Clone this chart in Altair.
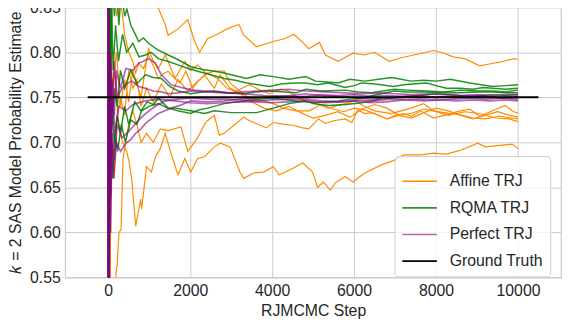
import altair as alt
import pandas as pd

series_names = ["Affine TRJ", "RQMA TRJ", "Perfect TRJ", "Ground Truth"]
series_colors = ["#ff8c00", "rgba(0,128,0,0.85)", "rgba(128,0,128,0.6)", "#000000"]
series_widths = [1.2, 1.5, 1.7, 2.0]

x_ticks = [0, 2000, 4000, 6000, 8000, 10000]
y_ticks = [0.55, 0.60, 0.65, 0.70, 0.75, 0.80, 0.85]

# (RJMCMC step, estimate) pairs
affine_1 = [(0, 0.60), (20, 1.00), (60, 0.95), (150, 0.98), (300, 0.93), (500, 0.91), (800, 0.89), (1100, 0.87),
            (1223, 0.849), (1391, 0.831), (1463, 0.819), (1703, 0.826), (1942, 0.836), (2110, 0.812), (2230, 0.800),
            (2422, 0.815), (2662, 0.820), (2900, 0.826), (3189, 0.831), (3309, 0.819), (3621, 0.806), (4029, 0.812),
            (4300, 0.815), (4532, 0.820), (4772, 0.810), (4892, 0.804), (5156, 0.811), (5300, 0.797), (5611, 0.790),
            (5971, 0.799), (6250, 0.797), (6499, 0.800), (6859, 0.790), (7150, 0.794), (7458, 0.797), (7937, 0.802),
            (8200, 0.799), (8417, 0.795), (8700, 0.793), (9065, 0.785), (9300, 0.787), (9544, 0.789), (9904, 0.793),
            (10000, 0.792)]
affine_2 = [(0, 1.0), (10, 0.6), (25, 0.95), (50, 0.88), (100, 0.92), (200, 0.84), (300, 0.86), (400, 0.82),
            (500, 0.80), (600, 0.79), (671, 0.777), (743, 0.788), (860, 0.782), (983, 0.797), (1100, 0.785),
            (1223, 0.771), (1340, 0.776), (1463, 0.779), (1600, 0.772), (1751, 0.766), (1894, 0.779), (2062, 0.760),
            (2200, 0.768), (2350, 0.775), (2590, 0.760), (2734, 0.775), (2974, 0.760), (3141, 0.757), (3300, 0.761),
            (3453, 0.764), (3700, 0.758), (3933, 0.754), (4200, 0.759), (4412, 0.757), (4600, 0.750), (4820, 0.746),
            (5060, 0.743), (5372, 0.738), (5600, 0.741), (5780, 0.743), (6019, 0.746), (6250, 0.740), (6499, 0.735),
            (6907, 0.732), (7150, 0.735), (7386, 0.738), (7698, 0.743), (7937, 0.735), (8345, 0.732), (8600, 0.735),
            (8825, 0.737), (9065, 0.729), (9377, 0.735), (9688, 0.741), (9856, 0.735), (10000, 0.732)]
affine_3 = [(0, 0.0), (10, 0.9), (30, 0.7), (60, 0.82), (100, 0.76), (200, 0.80), (300, 0.74), (400, 0.77),
            (500, 0.745), (600, 0.78), (800, 0.75), (983, 0.804), (1100, 0.79), (1223, 0.782), (1391, 0.797),
            (1631, 0.771), (1870, 0.790), (2000, 0.780), (2182, 0.786), (2400, 0.776), (2590, 0.779), (2830, 0.779),
            (2974, 0.766), (3213, 0.757), (3453, 0.749), (3789, 0.746), (4029, 0.743), (4269, 0.738), (4580, 0.735),
            (4900, 0.735), (5200, 0.742), (5500, 0.737), (5750, 0.734), (6000, 0.738), (6250, 0.736), (6499, 0.732),
            (6811, 0.726), (7000, 0.730), (7218, 0.732), (7400, 0.729), (7626, 0.735), (7937, 0.727), (8200, 0.730),
            (8417, 0.732), (8650, 0.730), (8897, 0.727), (9209, 0.726), (9544, 0.729), (9856, 0.727), (10000, 0.726)]
affine_4 = [(0, 0.3), (10, 0.55), (30, 0.45), (60, 0.62), (100, 0.70), (150, 0.66), (200, 0.72), (300, 0.75),
            (400, 0.73), (500, 0.78), (600, 0.76), (700, 0.77), (800, 0.74), (935, 0.76), (1100, 0.745), (1300, 0.765),
            (1500, 0.75), (1703, 0.77), (1942, 0.757), (2182, 0.768), (2422, 0.777), (2662, 0.771), (2900, 0.76),
            (3200, 0.755), (3500, 0.745), (3800, 0.738), (4100, 0.735), (4400, 0.74), (4700, 0.733), (5000, 0.727),
            (5300, 0.73), (5600, 0.734), (5900, 0.728), (6200, 0.737), (6500, 0.742), (6800, 0.738), (7100, 0.73),
            (7400, 0.727), (7700, 0.733), (8000, 0.738), (8300, 0.735), (8600, 0.73), (8900, 0.726), (9200, 0.73),
            (9500, 0.734), (9800, 0.73), (10000, 0.728)]
affine_5 = [(0, 0.0), (10, 0.4), (30, 0.2), (60, 0.45), (120, 0.50), (192, 0.556), (216, 0.563), (264, 0.60),
            (312, 0.603), (360, 0.68), (420, 0.70), (500, 0.72), (600, 0.735), (700, 0.72), (800, 0.70), (935, 0.71),
            (1100, 0.70), (1271, 0.715), (1463, 0.713), (1775, 0.717), (1942, 0.69), (2182, 0.705), (2350, 0.72),
            (2422, 0.724), (2590, 0.73), (2710, 0.708), (2830, 0.71), (3070, 0.719), (3309, 0.728), (3453, 0.724),
            (3861, 0.716), (4029, 0.722), (4300, 0.72), (4508, 0.719), (4748, 0.716), (4892, 0.715), (5132, 0.726),
            (5300, 0.721), (5500, 0.724), (5780, 0.726), (5947, 0.722), (6091, 0.736), (6259, 0.732), (6427, 0.733),
            (6811, 0.726), (7100, 0.73), (7386, 0.732), (7700, 0.737), (7937, 0.735), (8300, 0.73), (8700, 0.734),
            (9065, 0.732), (9449, 0.727), (9784, 0.726), (10000, 0.723)]
affine_6 = [(0, 1.0), (15, 0.62), (40, 0.85), (80, 0.74), (150, 0.78), (250, 0.72), (350, 0.70), (450, 0.69),
            (504, 0.68), (576, 0.658), (671, 0.607), (791, 0.637), (815, 0.626), (935, 0.673), (1055, 0.667),
            (1151, 0.684), (1271, 0.693), (1391, 0.71), (1550, 0.685), (1703, 0.664), (1870, 0.682), (2014, 0.667),
            (2182, 0.682), (2350, 0.684), (2590, 0.695), (2734, 0.699), (2974, 0.695), (3213, 0.667), (3309, 0.660),
            (3549, 0.666), (3789, 0.667), (4029, 0.673), (4173, 0.664), (4412, 0.669), (4748, 0.677), (4988, 0.667),
            (5108, 0.650), (5252, 0.656), (5420, 0.647), (5540, 0.655), (5780, 0.662), (5971, 0.656), (6259, 0.666),
            (6667, 0.675), (6979, 0.680), (7218, 0.686), (7626, 0.686), (7937, 0.688), (8249, 0.687), (8585, 0.691),
            (9017, 0.699), (9209, 0.695), (9616, 0.697), (9856, 0.698), (10000, 0.693)]

rqma_1 = [(0, 1.0), (8, 0.5), (15, 0.9), (25, 0.6), (40, 0.95), (70, 0.8), (100, 0.9), (150, 0.84), (200, 0.88),
          (260, 0.83), (320, 0.87), (400, 0.84), (456, 0.848), (552, 0.83), (671, 0.819), (743, 0.812), (860, 0.816),
          (983, 0.81), (1200, 0.803), (1463, 0.797), (1700, 0.792), (2014, 0.784), (2300, 0.781), (2600, 0.779),
          (2830, 0.777), (3100, 0.774), (3381, 0.771), (3700, 0.775), (4029, 0.773), (4412, 0.77), (4820, 0.773),
          (5060, 0.768), (5350, 0.767), (5611, 0.766), (5899, 0.77), (6259, 0.768), (6600, 0.77), (6907, 0.772),
          (7150, 0.77), (7386, 0.768), (7700, 0.769), (8009, 0.768), (8345, 0.77), (8825, 0.766), (9100, 0.764),
          (9377, 0.762), (9700, 0.763), (10000, 0.764)]
rqma_2 = [(0, 0.0), (8, 0.9), (15, 0.55), (30, 0.85), (50, 0.7), (80, 0.86), (120, 0.78), (180, 0.83), (250, 0.79),
          (350, 0.82), (450, 0.80), (600, 0.81), (750, 0.795), (911, 0.797), (1050, 0.80), (1223, 0.793),
          (1450, 0.79), (1703, 0.786), (1950, 0.782), (2182, 0.779), (2500, 0.775), (2830, 0.771), (3100, 0.769),
          (3381, 0.766), (3650, 0.764), (3933, 0.762), (4250, 0.765), (4580, 0.766), (4820, 0.766), (5100, 0.764),
          (5372, 0.766), (5780, 0.761), (6000, 0.763), (6187, 0.766), (6450, 0.765), (6667, 0.764), (6950, 0.762),
          (7218, 0.764), (7500, 0.765), (7770, 0.766), (8000, 0.763), (8249, 0.76), (8600, 0.76), (8897, 0.759),
          (9150, 0.761), (9377, 0.76), (9700, 0.759), (10000, 0.76)]
rqma_3 = [(0, 1.0), (10, 0.6), (20, 0.8), (35, 0.65), (60, 0.78), (100, 0.72), (150, 0.76), (220, 0.74), (300, 0.78),
          (400, 0.76), (550, 0.78), (700, 0.765), (911, 0.775), (1100, 0.772), (1295, 0.771), (1500, 0.762),
          (1703, 0.757), (2014, 0.754), (2300, 0.756), (2590, 0.757), (2900, 0.755), (3309, 0.754), (3600, 0.756),
          (3933, 0.757), (4300, 0.756), (4580, 0.755), (4820, 0.759), (5200, 0.757), (5780, 0.758), (6100, 0.756),
          (6427, 0.755), (6979, 0.759), (7300, 0.758), (7770, 0.757), (8200, 0.756), (8585, 0.758), (9000, 0.757),
          (9377, 0.757), (9700, 0.756), (10000, 0.758)]
rqma_4 = [(0, 0.0), (10, 0.7), (20, 0.4), (35, 0.75), (60, 0.68), (100, 0.74), (150, 0.70), (220, 0.73), (300, 0.71),
          (400, 0.74), (500, 0.72), (650, 0.745), (800, 0.735), (950, 0.745), (1100, 0.742), (1223, 0.749),
          (1463, 0.738), (1700, 0.735), (2014, 0.732), (2200, 0.736), (2422, 0.738), (2830, 0.743), (3309, 0.746),
          (3700, 0.748), (4029, 0.749), (4400, 0.747), (4580, 0.746), (5060, 0.744), (5300, 0.745), (5611, 0.746),
          (5900, 0.748), (6187, 0.749), (6450, 0.752), (6667, 0.754), (6979, 0.757), (7300, 0.756), (7770, 0.756),
          (8200, 0.755), (8585, 0.755), (9000, 0.756), (9377, 0.756), (9700, 0.755), (10000, 0.755)]
rqma_5 = [(0, 1.0), (10, 0.45), (25, 0.7), (40, 0.6), (70, 0.72), (110, 0.66), (160, 0.71), (230, 0.69), (320, 0.72),
          (420, 0.70), (550, 0.725), (700, 0.72), (815, 0.735), (1000, 0.74), (1223, 0.743), (1450, 0.738),
          (1631, 0.738), (2014, 0.735), (2350, 0.732), (2590, 0.735), (3000, 0.733), (3213, 0.733), (3621, 0.733),
          (4029, 0.738), (4412, 0.743), (4820, 0.746), (5000, 0.743), (5372, 0.741), (5800, 0.742), (6187, 0.744),
          (6450, 0.746), (6667, 0.749), (7000, 0.75), (7218, 0.751), (7600, 0.752), (8009, 0.754), (8400, 0.753),
          (8825, 0.751), (9100, 0.752), (9377, 0.753), (9700, 0.752), (10000, 0.753)]

perfect_1 = [(0, 1.0), (5, 0.3), (10, 0.9), (15, 0.5), (20, 0.85), (30, 0.6), (45, 0.8), (70, 0.7), (100, 0.77),
             (150, 0.73), (200, 0.78), (300, 0.76), (432, 0.782), (600, 0.78), (743, 0.788), (860, 0.79),
             (983, 0.793), (1151, 0.788), (1295, 0.775), (1535, 0.764), (1870, 0.76), (2100, 0.758), (2350, 0.757),
             (2650, 0.756), (2974, 0.755), (3300, 0.756), (3621, 0.757), (4000, 0.758), (4412, 0.759), (4820, 0.757),
             (5300, 0.756), (5780, 0.755), (6200, 0.754), (6600, 0.755), (6979, 0.754), (7400, 0.753), (7800, 0.754),
             (8177, 0.753), (8600, 0.752), (9000, 0.753), (9377, 0.752), (9700, 0.753), (10000, 0.753)]
perfect_2 = [(0, 0.0), (5, 0.8), (10, 0.35), (15, 0.7), (25, 0.45), (40, 0.68), (60, 0.6), (90, 0.70), (130, 0.66),
             (200, 0.70), (300, 0.69), (432, 0.699), (550, 0.703), (671, 0.71), (800, 0.715), (911, 0.721),
             (1050, 0.726), (1223, 0.732), (1535, 0.738), (1750, 0.741), (2014, 0.746), (2400, 0.745), (2830, 0.746),
             (3200, 0.748), (3621, 0.749), (4000, 0.751), (4412, 0.752), (4820, 0.754), (5200, 0.752), (5600, 0.751),
             (6000, 0.75), (6400, 0.748), (6800, 0.749), (7200, 0.75), (7600, 0.751), (8000, 0.75), (8400, 0.751),
             (8800, 0.752), (9200, 0.751), (9600, 0.75), (10000, 0.751)]
perfect_3 = [(0, 1.0), (5, 0.2), (10, 0.75), (20, 0.55), (35, 0.72), (60, 0.64), (100, 0.71), (150, 0.68),
             (220, 0.72), (336, 0.705), (450, 0.71), (576, 0.716), (750, 0.725), (911, 0.732), (1150, 0.74),
             (1391, 0.746), (1700, 0.748), (2014, 0.749), (2400, 0.748), (2830, 0.748), (3200, 0.747), (3621, 0.746),
             (4000, 0.747), (4412, 0.748), (4820, 0.748), (5200, 0.746), (5600, 0.745), (6000, 0.746), (6400, 0.744),
             (6800, 0.745), (7200, 0.747), (7600, 0.748), (8000, 0.747), (8400, 0.748), (8800, 0.749), (9200, 0.748),
             (9600, 0.749), (10000, 0.748)]
perfect_4 = [(0, 0.0), (5, 0.9), (10, 0.55), (20, 0.85), (35, 0.65), (60, 0.8), (100, 0.74), (150, 0.79),
             (220, 0.75), (336, 0.76), (450, 0.765), (576, 0.768), (743, 0.762), (911, 0.76), (1100, 0.757),
             (1300, 0.756), (1463, 0.754), (1700, 0.755), (2014, 0.757), (2400, 0.756), (2830, 0.755), (3300, 0.754),
             (3800, 0.752), (4200, 0.751), (4820, 0.751), (5200, 0.753), (5600, 0.752), (6000, 0.753), (6400, 0.751),
             (6800, 0.752), (7200, 0.751), (7600, 0.752), (8000, 0.75), (8400, 0.751), (8800, 0.75), (9200, 0.751),
             (9600, 0.749), (10000, 0.75)]
perfect_5 = [(0, 1.0), (5, 0.45), (12, 0.8), (22, 0.6), (40, 0.78), (70, 0.68), (110, 0.75), (170, 0.71),
             (250, 0.74), (432, 0.735), (600, 0.742), (911, 0.746), (1200, 0.748), (1631, 0.746), (2000, 0.744),
             (2422, 0.743), (2800, 0.744), (3200, 0.745), (3621, 0.745), (4000, 0.744), (4400, 0.745), (4820, 0.746),
             (5300, 0.744), (5700, 0.745), (6100, 0.747), (6500, 0.746), (6900, 0.748), (7300, 0.747), (7700, 0.746),
             (8100, 0.747), (8500, 0.746), (8900, 0.747), (9300, 0.746), (9700, 0.747), (10000, 0.746)]

ground_truth_steps = [-500, 10500]
ground_truth_value = 0.75

runs = {
    "Affine TRJ": [affine_1, affine_2, affine_3, affine_4, affine_5, affine_6],
    "RQMA TRJ": [rqma_1, rqma_2, rqma_3, rqma_4, rqma_5],
    "Perfect TRJ": [perfect_1, perfect_2, perfect_3, perfect_4, perfect_5],
    "Ground Truth": [[(s, ground_truth_value) for s in ground_truth_steps]],
}


def frame_for(series):
    rows = []
    for i, run in enumerate(runs[series]):
        for step, value in run:
            rows.append({"step": step, "estimate": value, "series": series, "run": f"{series} {i}"})
    return pd.DataFrame(rows)


FONT = "Liberation Sans"
TXT = "#262626"

x_enc = alt.X("step:Q", scale=alt.Scale(domain=[-1050, 11050], nice=False, zero=False),
              axis=alt.Axis(values=x_ticks, format="d", title="RJMCMC Step"))
y_enc = alt.Y("estimate:Q", scale=alt.Scale(domain=[0.55, 0.85], nice=False, zero=False),
              axis=alt.Axis(values=y_ticks, format=".2f", title="𝑘 = 2 SAS Model Probability Estimate"))
color_enc = alt.Color("series:N", scale=alt.Scale(domain=series_names, range=series_colors),
                      legend=alt.Legend(title=None, orient="none", legendX=334, legendY=151,
                                        symbolType="stroke", symbolSize=1225, symbolStrokeWidth=1.6,
                                        labelFontSize=16, labelColor=TXT, labelOffset=12, rowPadding=-3,
                                        padding=7, fillColor="rgba(255,255,255,0.8)", strokeColor="#cccccc",
                                        cornerRadius=4))

layers = []
for name, width in zip(series_names, series_widths):
    layers.append(
        alt.Chart(frame_for(name)).mark_line(clip=True, strokeWidth=width).encode(
            x=x_enc, y=y_enc, color=color_enc, detail="run:N"
        )
    )

chart = alt.layer(*layers).properties(
    width=503, height=274,
    autosize=alt.AutoSizeParams(type="none"),
    padding={"left": 58, "top": -3, "right": 3, "bottom": 45},
).configure(font=FONT).configure_view(
    stroke="#cccccc", strokeWidth=1.25
).configure_axis(
    grid=True, gridColor="#cccccc", gridWidth=1, domain=False, ticks=False,
    labelFontSize=16, labelColor=TXT, titleFontSize=16, titleColor=TXT, titleFontWeight="normal",
    labelPadding=5
).configure_axisX(titlePadding=5).configure_axisY(titlePadding=6)

chart.save("out.html", embed_options={"renderer": "svg", "actions": False})
